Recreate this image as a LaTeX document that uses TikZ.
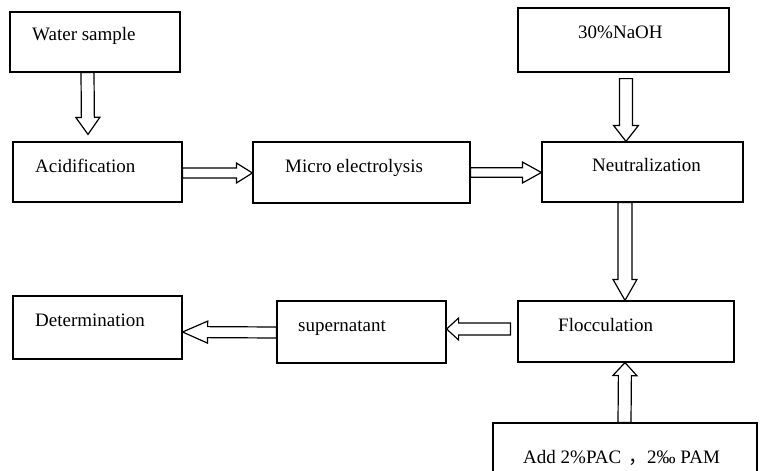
\documentclass[tikz,border=0pt]{standalone}
\usepackage{fontspec}
\setmainfont{Liberation Serif}
\newfontfamily\cjk{Noto Sans CJK SC}
\usetikzlibrary{calc}
\tikzset{
  box/.style={draw, line width=1.2pt, inner sep=0pt},
  txt/.style={anchor=base west, inner sep=0pt, font=\fontsize{19}{22}\selectfont},
  arr/.style={draw, line width=1.2pt, fill=white, line join=miter}
}
\newcommand\blockarrow[5]{%
  \path ($(#2)!#5!(#1)$) coordinate (bh);
  \draw[arr] ($(#1)!#3!90:(#2)$) -- ($(bh)!#3!90:(#2)$) -- ($(bh)!#4!90:(#2)$) -- (#2)
     -- ($(bh)!#4!-90:(#2)$) -- ($(bh)!#3!-90:(#2)$) -- ($(#1)!#3!-90:(#2)$) -- cycle;}
\begin{document}
\begin{tikzpicture}[x=1pt,y=1pt]
\useasboundingbox[fill=white] (0,0) rectangle (766,-471);
% boxes
\node[box, minimum width=170pt, minimum height=60pt] (ws) at (95,-42) {};
\node[box, minimum width=211pt, minimum height=64pt] (naoh) at (623.5,-40) {};
\node[box, minimum width=169pt, minimum height=60pt] (acid) at (97.5,-172) {};
\node[box, minimum width=217pt, minimum height=61pt] (micro) at (361.5,-172.5) {};
\node[box, minimum width=201pt, minimum height=60pt] (neut) at (642.5,-172) {};
\node[box, minimum width=169pt, minimum height=63pt] (det) at (97.5,-327.5) {};
\node[box, minimum width=169pt, minimum height=62pt] (sup) at (361.5,-332) {};
\node[box, minimum width=216pt, minimum height=61pt] (floc) at (626,-331.5) {};
\node[box, minimum width=264pt, minimum height=67pt] (add) at (625,-456.5) {};
% texts
\node[txt] (tws) at (32,-40) {Water sample};
\node[txt] (tnaoh) at (578,-38) {30\%NaOH};
\node[txt] (tacid) at (35,-172) {Acidification};
\node[txt] (tmicro) at (285,-172) {Micro electrolysis};
\node[txt] (tneut) at (592,-171) {Neutralization};
\node[txt] (tdet) at (35,-326) {Determination};
\node[txt] (tsup) at (298,-331) {supernatant};
\node[txt] (tfloc) at (558,-331) {Flocculation};
\node[txt] (tadd) at (523,-463) {Add 2\%PAC\hspace{7pt}{\cjk ，}2‰ PAM};
% arrow end points
\coordinate (a1s) at ($(ws.south)+(-7.5,0)$);
\coordinate (a1e) at ($(acid.north)+(-9.5,7)$);
\coordinate (a2s) at ($(acid.east)+(0,-1)$);
\coordinate (a2e) at ($(micro.west)+(0,-0.5)$);
\coordinate (a3s) at ($(micro.east)$);
\coordinate (a3e) at ($(neut.west)+(0,-0.5)$);
\coordinate (a4s) at ($(naoh.south)+(2.5,-6)$);
\coordinate (a4e) at ($(neut.north)+(-16.5,0)$);
\coordinate (a5s) at ($(neut.south)+(-17.5,0)$);
\coordinate (a5e) at ($(floc.north)+(-1,0)$);
\coordinate (a6s) at ($(floc.west)+(-7,2.5)$);
\coordinate (a6e) at ($(sup.east)+(0,3)$);
\coordinate (a7s) at ($(sup.west)+(0,-0.5)$);
\coordinate (a7e) at ($(det.east)+(0,-4.5)$);
\coordinate (a8s) at ($(add.north)+(-0.5,0)$);
\coordinate (a8e) at ($(floc.south)+(-1,0)$);
% arrows
\blockarrow{a1s}{a1e}{6.5pt}{12pt}{17pt}
\blockarrow{a2s}{a2e}{5pt}{10pt}{16pt}
\blockarrow{a3s}{a3e}{4.75pt}{10.5pt}{19pt}
\blockarrow{a4s}{a4e}{6.5pt}{12.5pt}{16pt}
\blockarrow{a5s}{a5e}{7pt}{12pt}{21pt}
\blockarrow{a6s}{a6e}{6pt}{11pt}{12pt}
\blockarrow{a7s}{a7e}{5.5pt}{11pt}{25pt}
\blockarrow{a8s}{a8e}{6.5pt}{12pt}{13pt}
\end{tikzpicture}
\end{document}
